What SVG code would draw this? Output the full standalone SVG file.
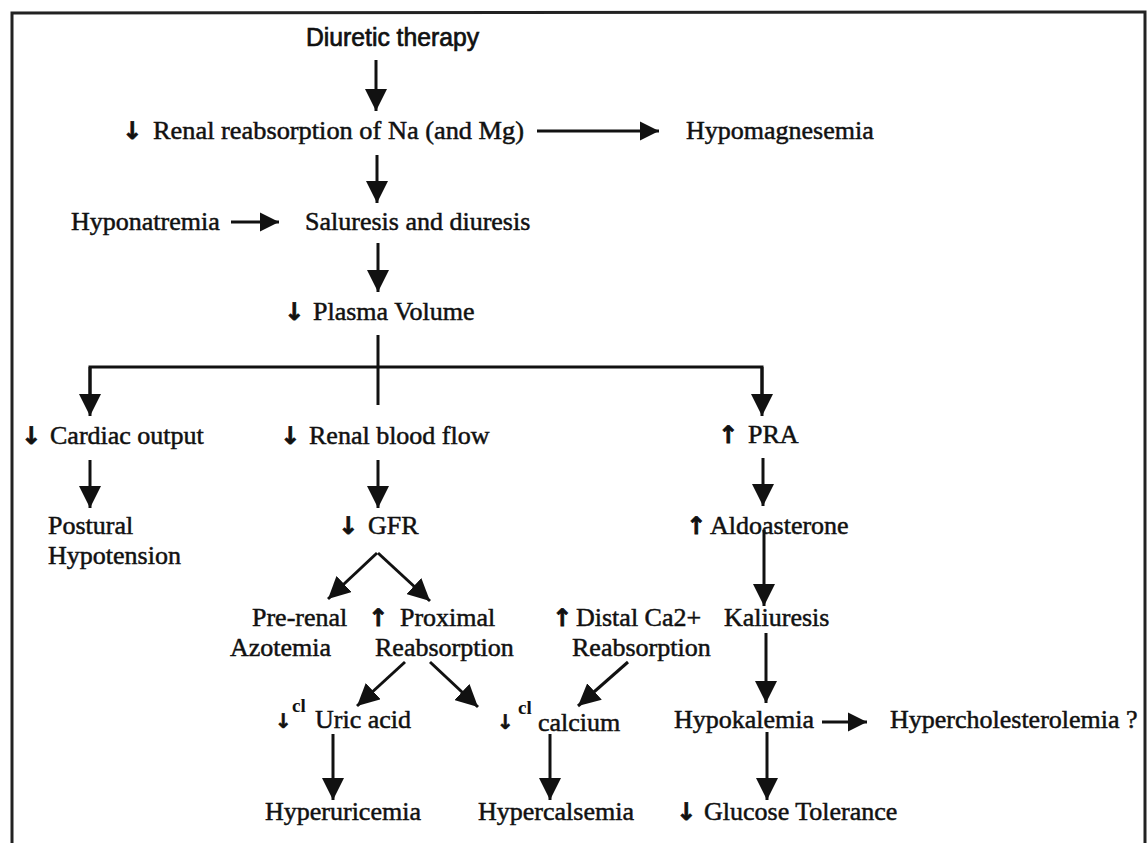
<svg xmlns="http://www.w3.org/2000/svg" width="1148" height="843" viewBox="0 0 1148 843">
<style>
.t{font-family:"Liberation Serif","Times New Roman",serif;font-size:26px;fill:#111;stroke:#111;stroke-width:0.5}
.s{font-family:"Liberation Sans",Arial,sans-serif;font-size:25px;fill:#111;stroke:#111;stroke-width:0.7}
.g{font-family:"DejaVu Sans",sans-serif;font-size:24px;font-weight:bold;fill:#111;stroke:#111;stroke-width:0.8}
.gs{font-family:"DejaVu Sans",sans-serif;font-size:20px;font-weight:bold;fill:#111;stroke:#111;stroke-width:0.6}
.sup{font-family:"Liberation Serif","Times New Roman",serif;font-size:19px;font-weight:bold;fill:#111}
.c{stroke:#111;stroke-width:3;fill:none}
</style>
<defs>
<marker id="ah" viewBox="0 0 10 10" markerUnits="userSpaceOnUse" markerWidth="22" markerHeight="22" refX="10" refY="5" orient="auto">
<path d="M0,0 L10,5 L0,10 Z" fill="#111"/>
</marker>
<marker id="ahs" viewBox="0 0 10 10" markerUnits="userSpaceOnUse" markerWidth="19" markerHeight="20" refX="10" refY="5" orient="auto">
<path d="M0,0 L10,5 L0,10 Z" fill="#111"/>
</marker>
</defs>
<rect width="1148" height="843" fill="#fff"/>
<path d="M12,843 L12,13 L1145,12 L1145,843" stroke="#222" stroke-width="3" fill="none"/>
<g id="connectors">
<line class="c" x1="376" y1="60" x2="376" y2="111" marker-end="url(#ah)"/>
<line class="c" x1="537" y1="131" x2="659" y2="131" marker-end="url(#ahs)"/>
<line class="c" x1="377" y1="155" x2="377" y2="203" marker-end="url(#ah)"/>
<line class="c" x1="231" y1="222" x2="279" y2="222" marker-end="url(#ahs)"/>
<line class="c" x1="378" y1="243" x2="378" y2="292" marker-end="url(#ah)"/>
<line class="c" x1="378" y1="335" x2="378" y2="405"/>
<polyline class="c" points="90,400 90,367 762,367 762,400"/>
<line class="c" x1="90" y1="367" x2="90" y2="416" marker-end="url(#ah)"/>
<line class="c" x1="762" y1="367" x2="762" y2="416" marker-end="url(#ah)"/>
<line class="c" x1="90" y1="460" x2="90" y2="508" marker-end="url(#ah)"/>
<line class="c" x1="378" y1="460" x2="378" y2="508" marker-end="url(#ah)"/>
<line class="c" x1="763" y1="458" x2="763" y2="506" marker-end="url(#ah)"/>
<line class="c" x1="764" y1="530" x2="764" y2="606" marker-end="url(#ah)"/>
<line class="c" x1="377" y1="553" x2="328" y2="599" marker-end="url(#ah)"/>
<line class="c" x1="378" y1="553" x2="430" y2="601" marker-end="url(#ah)"/>
<line class="c" x1="766" y1="633" x2="766" y2="703" marker-end="url(#ah)"/>
<line class="c" x1="405" y1="662" x2="357" y2="706" marker-end="url(#ah)"/>
<line class="c" x1="430" y1="662" x2="478" y2="707" marker-end="url(#ah)"/>
<line class="c" x1="628" y1="662" x2="578" y2="706" marker-end="url(#ah)"/>
<line class="c" x1="822" y1="722" x2="867" y2="722" marker-end="url(#ahs)"/>
<line class="c" x1="333" y1="734" x2="333" y2="800" marker-end="url(#ah)"/>
<line class="c" x1="550" y1="734" x2="550" y2="800" marker-end="url(#ah)"/>
<line class="c" x1="767" y1="732" x2="767" y2="800" marker-end="url(#ah)"/>
</g>
<g id="n-diuretic"><text class="s" x="306" y="46" textLength="173" lengthAdjust="spacingAndGlyphs">Diuretic therapy</text></g>
<g id="n-renal-reabs"><text class="g" x="122" y="139">↓</text><text class="t" x="153" y="139" textLength="371" lengthAdjust="spacingAndGlyphs">Renal reabsorption of Na (and Mg)</text></g>
<g id="n-hypomag"><text class="t" x="686" y="139">Hypomagnesemia</text></g>
<g id="n-hyponat"><text class="t" x="71" y="230">Hyponatremia</text></g>
<g id="n-saluresis"><text class="t" x="305" y="230">Saluresis and diuresis</text></g>
<g id="n-plasma"><text class="g" x="284" y="320">↓</text><text class="t" x="313" y="320">Plasma Volume</text></g>
<g id="n-cardiac"><text class="g" x="21" y="444">↓</text><text class="t" x="50" y="444">Cardiac output</text></g>
<g id="n-rbf"><text class="g" x="280" y="444">↓</text><text class="t" x="309" y="444">Renal blood flow</text></g>
<g id="n-pra"><text class="g" x="718" y="443">↑</text><text class="t" x="748" y="443">PRA</text></g>
<g id="n-postural"><text class="t" x="48" y="534">Postural</text><text class="t" x="48" y="564">Hypotension</text></g>
<g id="n-gfr"><text class="g" x="338" y="534">↓</text><text class="t" x="368" y="534">GFR</text></g>
<g id="n-aldo"><text class="g" x="686" y="534">↑</text><text class="t" x="710" y="534">Aldoasterone</text></g>
<g id="n-prerenal"><text class="t" x="252" y="626">Pre-renal</text><text class="t" x="230" y="656">Azotemia</text></g>
<g id="n-proximal"><text class="g" x="368" y="626">↑</text><text class="t" x="400" y="626">Proximal</text><text class="t" x="375" y="656">Reabsorption</text></g>
<g id="n-distal"><text class="g" x="552" y="626">↑</text><text class="t" x="576" y="626">Distal Ca2+</text><text class="t" x="572" y="656">Reabsorption</text></g>
<g id="n-kaliuresis"><text class="t" x="724" y="626">Kaliuresis</text></g>
<g id="n-uric"><text class="gs" x="275" y="728">↓</text><text class="sup" x="292" y="712">cl</text><text class="t" x="315" y="728">Uric acid</text></g>
<g id="n-calcium"><text class="gs" x="497" y="729">↓</text><text class="sup" x="518" y="714">cl</text><text class="t" x="538" y="731">calcium</text></g>
<g id="n-hypokal"><text class="t" x="674" y="728">Hypokalemia</text></g>
<g id="n-hyperchol"><text class="t" x="890" y="728">Hypercholesterolemia ?</text></g>
<g id="n-hyperuric"><text class="t" x="265" y="820">Hyperuricemia</text></g>
<g id="n-hypercal"><text class="t" x="478" y="820">Hypercalsemia</text></g>
<g id="n-glucose"><text class="g" x="676" y="820">↓</text><text class="t" x="704" y="820">Glucose Tolerance</text></g>
</svg>
